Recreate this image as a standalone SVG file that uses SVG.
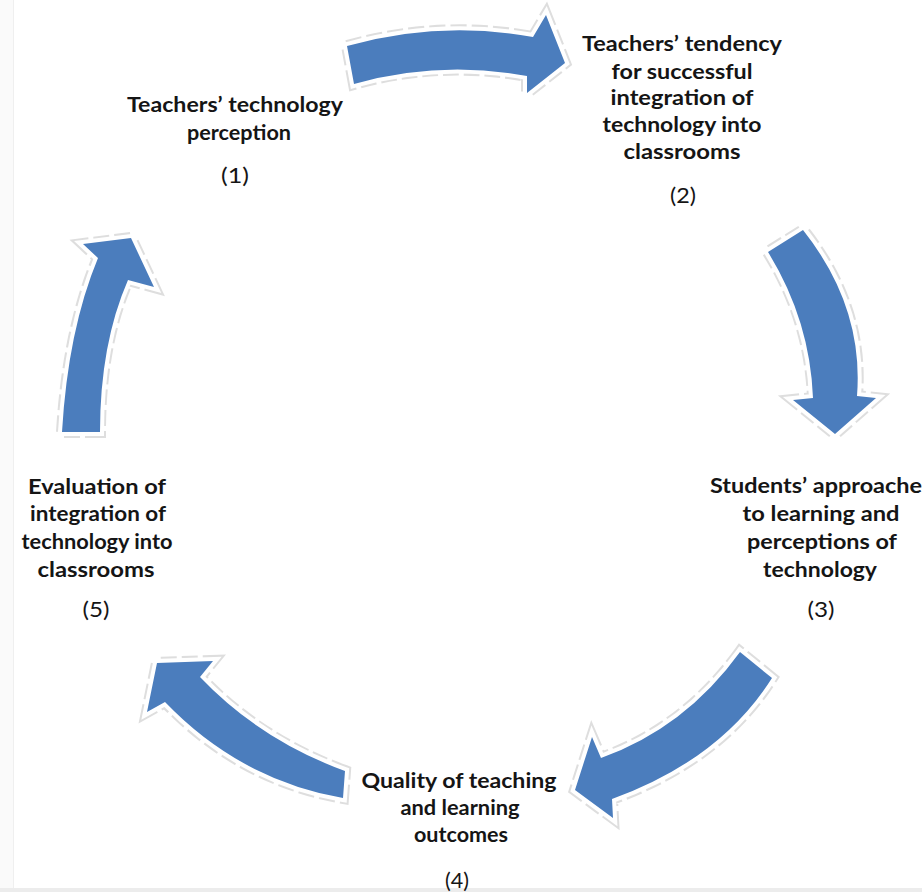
<svg xmlns="http://www.w3.org/2000/svg" width="922" height="892" viewBox="0 0 922 892">
<style>
.lbl{font-family:Lato,"Liberation Sans",sans-serif;font-weight:700;font-size:21px;fill:#151515;text-anchor:middle}
.num{font-family:Lato,"Liberation Sans",sans-serif;font-weight:400;font-size:21px;fill:#151515;text-anchor:middle}
.halo{fill:none;stroke:#dedede;stroke-width:12;stroke-dasharray:16 5;stroke-linejoin:miter}
.arr{fill:#4b7dbd;stroke:#ffffff;stroke-width:8;stroke-linejoin:miter;paint-order:stroke}
</style>
<rect x="0" y="0" width="922" height="892" fill="#ffffff"/>
<rect x="0" y="0" width="13" height="888" fill="#fafafa"/>
<line x1="13.5" y1="0" x2="13.5" y2="888" stroke="#efefef" stroke-width="1"/>
<rect x="0" y="888" width="922" height="4" fill="#ececec"/>
<g id="connectors">
  <g id="arrow-1-2">
    <path class="halo" d="M 347,46 Q 440,20 533,37 L 546,15 L 565,63 L 527,93 L 527,76 Q 440,60 354,84 Z"/>
    <path class="arr" d="M 347,46 Q 440,20 533,37 L 546,15 L 565,63 L 527,93 L 527,76 Q 440,60 354,84 Z"/>
  </g>
  <g id="arrow-2-3">
    <path class="halo" d="M 768,252 Q 810,320 813,398 L 793,400 L 835,434 L 876,398 L 857,396 Q 864,307 803,230 Z"/>
    <path class="arr" d="M 768,252 Q 810,320 813,398 L 793,400 L 835,434 L 876,398 L 857,396 Q 864,307 803,230 Z"/>
  </g>
  <g id="arrow-3-4">
    <path class="halo" d="M 740,652 Q 685,728 601,758 L 592,737 L 575,790 L 613,818 L 612,799 Q 720,760 772,678 Z"/>
    <path class="arr" d="M 740,652 Q 685,728 601,758 L 592,737 L 575,790 L 613,818 L 612,799 Q 720,760 772,678 Z"/>
  </g>
  <g id="arrow-4-5">
    <path class="halo" d="M 345,771 Q 260,740 200,677 L 213,661 L 157,663 L 147,712 L 165,702 Q 240,780 343,798 Z"/>
    <path class="arr" d="M 345,771 Q 260,740 200,677 L 213,661 L 157,663 L 147,712 L 165,702 Q 240,780 343,798 Z"/>
  </g>
  <g id="arrow-5-1">
    <path class="halo" d="M 62,432 Q 68,330 98,258 L 83,244 L 131,238 L 154,287 L 128,280 Q 100,344 100,432 Z"/>
    <path class="arr" d="M 62,432 Q 68,330 98,258 L 83,244 L 131,238 L 154,287 L 128,280 Q 100,344 100,432 Z"/>
  </g>
</g>
<g id="node-1">
  <text class="lbl" x="235" y="112" textLength="216" lengthAdjust="spacingAndGlyphs">Teachers’ technology</text>
  <text class="lbl" x="239" y="140" textLength="104" lengthAdjust="spacingAndGlyphs">perception</text>
  <text class="num" x="235" y="183" textLength="28" lengthAdjust="spacingAndGlyphs">(1)</text>
</g>
<g id="node-2">
  <text class="lbl" x="682" y="51" textLength="200" lengthAdjust="spacingAndGlyphs">Teachers’ tendency</text>
  <text class="lbl" x="682" y="79" textLength="141" lengthAdjust="spacingAndGlyphs">for successful</text>
  <text class="lbl" x="682" y="105" textLength="143" lengthAdjust="spacingAndGlyphs">integration of</text>
  <text class="lbl" x="682" y="132" textLength="159" lengthAdjust="spacingAndGlyphs">technology into</text>
  <text class="lbl" x="682" y="159" textLength="117" lengthAdjust="spacingAndGlyphs">classrooms</text>
  <text class="num" x="683" y="203" textLength="26" lengthAdjust="spacingAndGlyphs">(2)</text>
</g>
<g id="node-3">
  <text class="lbl" x="710" y="493" style="text-anchor:start" textLength="212" lengthAdjust="spacingAndGlyphs">Students’ approache</text>
  <text class="lbl" x="821" y="521" textLength="157" lengthAdjust="spacingAndGlyphs">to learning and</text>
  <text class="lbl" x="822" y="549" textLength="150" lengthAdjust="spacingAndGlyphs">perceptions of</text>
  <text class="lbl" x="820" y="577" textLength="114" lengthAdjust="spacingAndGlyphs">technology</text>
  <text class="num" x="821" y="617" textLength="27" lengthAdjust="spacingAndGlyphs">(3)</text>
</g>
<g id="node-4">
  <text class="lbl" x="459" y="788" textLength="195" lengthAdjust="spacingAndGlyphs">Quality of teaching</text>
  <text class="lbl" x="460" y="815" textLength="119" lengthAdjust="spacingAndGlyphs">and learning</text>
  <text class="lbl" x="461" y="842" textLength="94" lengthAdjust="spacingAndGlyphs">outcomes</text>
  <text class="num" x="457" y="888" textLength="24" lengthAdjust="spacingAndGlyphs">(4)</text>
</g>
<g id="node-5">
  <text class="lbl" x="97" y="494" textLength="138" lengthAdjust="spacingAndGlyphs">Evaluation of</text>
  <text class="lbl" x="98" y="521" textLength="136" lengthAdjust="spacingAndGlyphs">integration of</text>
  <text class="lbl" x="97" y="549" textLength="151" lengthAdjust="spacingAndGlyphs">technology into</text>
  <text class="lbl" x="96" y="577" textLength="117" lengthAdjust="spacingAndGlyphs">classrooms</text>
  <text class="num" x="96" y="617" textLength="27" lengthAdjust="spacingAndGlyphs">(5)</text>
</g>
</svg>
